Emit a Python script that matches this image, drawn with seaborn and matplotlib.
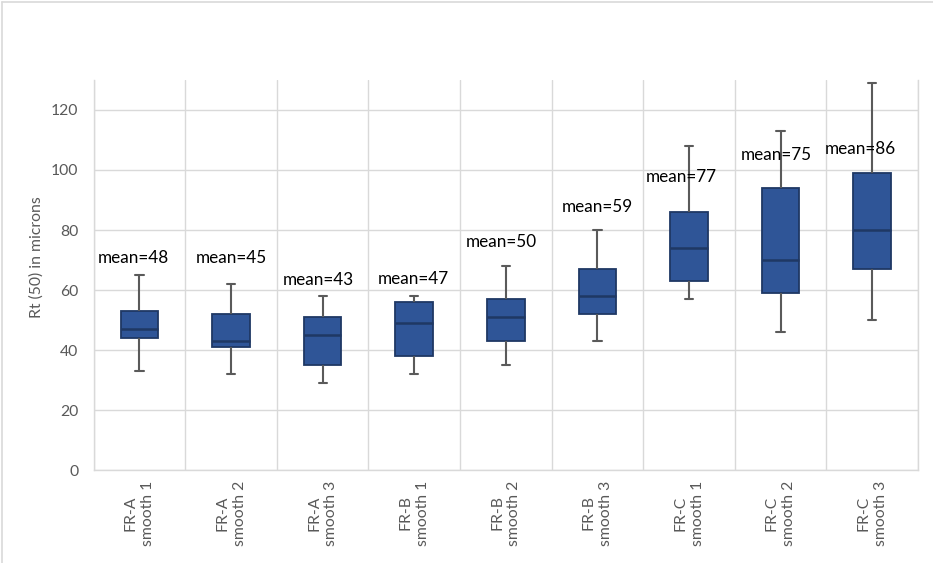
import numpy as np
import pandas as pd
import seaborn as sns
import matplotlib.pyplot as plt
from matplotlib.lines import Line2D
from matplotlib.transforms import blended_transform_factory

# Five-number summaries of Rt(50) per sample (microns)
categories = ["FR-A\nsmooth 1", "FR-A\nsmooth 2", "FR-A\nsmooth 3",
              "FR-B\nsmooth 1", "FR-B\nsmooth 2", "FR-B\nsmooth 3",
              "FR-C\nsmooth 1", "FR-C\nsmooth 2", "FR-C\nsmooth 3"]
whisker_low = [33, 32, 29, 32, 35, 43, 57, 46, 50]
quartile1 = [44, 41, 35, 38, 43, 52, 63, 59, 67]
median = [47, 43, 45, 49, 51, 58, 74, 70, 80]
quartile3 = [53, 52, 51, 56, 57, 67, 86, 94, 99]
whisker_high = [65, 62, 58, 58, 68, 80, 108, 113, 129]
means = [48, 45, 43, 47, 50, 59, 77, 75, 86]
y_ticks = [0, 20, 40, 60, 80, 100, 120]

# placement of the mean annotations (data units)
label_y = [70.7, 70.7, 63.3, 63.7, 76.0, 87.7, 97.7, 105.0, 107.0]
label_dx = [-0.065, 0.0, -0.045, -0.01, -0.045, 0.0, -0.09, -0.045, -0.13]

rows = []
for i, cat in enumerate(categories):
    for v in (whisker_low[i], quartile1[i], median[i], quartile3[i], whisker_high[i]):
        rows.append((cat, v))
df = pd.DataFrame(rows, columns=["sample", "rt"])

sns.set_theme(style="white")
plt.rcParams["font.family"] = ["Lato", "DejaVu Sans"]

W, H = 933, 563
fig = plt.figure(figsize=(W / 100, H / 100), dpi=100)
left, right, top, bottom = 93.7, 918.0, 80.0, 470.0
ax = fig.add_axes([left / W, (H - bottom) / H, (right - left) / W, (bottom - top) / H])

grid_c = "#D9D9D9"
text_c = "#595959"

sns.boxplot(data=df, x="sample", y="rt", order=categories, whis=(0, 100),
            width=0.41, color="#2F5597", linecolor="#1F3864", linewidth=1.3,
            saturation=1, showfliers=False, capwidths=0.09,
            whiskerprops=dict(color="#5A5A5A", linewidth=1.5),
            capprops=dict(color="#5A5A5A", linewidth=1.5),
            medianprops=dict(color="#1F3864", linewidth=1.8),
            ax=ax)

ax.set_xlim(-0.5, len(categories) - 0.5)
ax.set_ylim(0, 130)
ax.set_yticks(y_ticks)
ax.set_yticklabels([str(t) for t in y_ticks], color=text_c, fontsize=11.3)
ax.tick_params(axis="y", length=0, pad=11)
ax.set_xticks(np.arange(-0.5, len(categories), 1.0), minor=True)
ax.set_xticks([])
ax.tick_params(axis="x", which="both", length=0)
ax.yaxis.grid(True, color=grid_c, linewidth=1)
ax.xaxis.grid(True, which="minor", color=grid_c, linewidth=1)
ax.set_axisbelow(True)
for side in ("left", "right", "bottom"):
    ax.spines[side].set_color(grid_c)
    ax.spines[side].set_linewidth(1)
ax.spines["top"].set_visible(False)

ax.set_xlabel("")
ax.set_ylabel("Rt (50) in microns", color=text_c, fontsize=11.3)
ax.yaxis.set_label_coords(-0.061, 0.546)

# category labels, rotated and centred below each box
trans = blended_transform_factory(ax.transData, ax.transAxes)
for i, cat in enumerate(categories):
    ax.text(i, -43 / 390, cat, transform=trans, rotation=90, ha="center",
            va="center", multialignment="center", fontsize=11.3, color=text_c,
            linespacing=1.3)

for i, m in enumerate(means):
    ax.text(i + label_dx[i], label_y[i], f"mean={m}", ha="center", va="center",
            fontsize=12.3, color="black")

# chart frame
fig.add_artist(Line2D([2 / W, 2 / W], [0, 1 - 2 / H], transform=fig.transFigure,
                      color=grid_c, linewidth=1.2))
fig.add_artist(Line2D([2 / W, 1], [1 - 2 / H, 1 - 2 / H], transform=fig.transFigure,
                      color=grid_c, linewidth=1.2))

fig.savefig("out.png", dpi=100)
